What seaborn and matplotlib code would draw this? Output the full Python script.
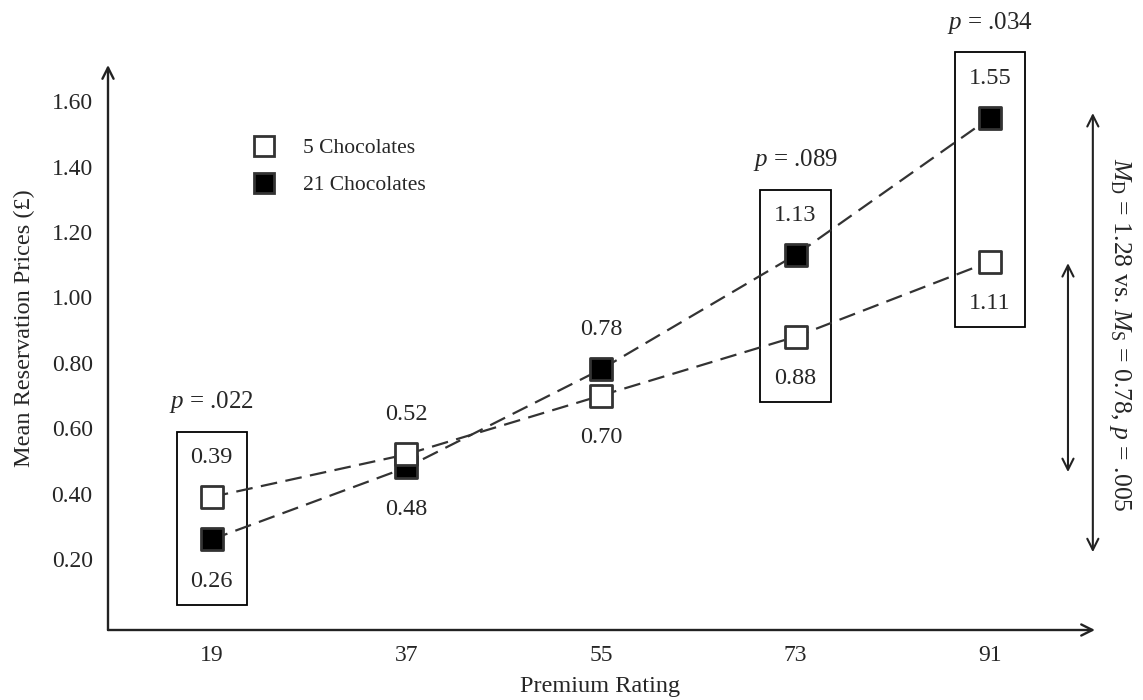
import matplotlib
matplotlib.use("Agg")
import matplotlib.pyplot as plt
import seaborn as sns
import pandas as pd
from matplotlib.lines import Line2D
from matplotlib.patches import Rectangle

# ---- data ----
ratings = [19, 37, 55, 73, 91]
five_choc = [0.39, 0.52, 0.70, 0.88, 1.11]
twentyone_choc = [0.26, 0.48, 0.78, 1.13, 1.55]
y_ticks = [0.20, 0.40, 0.60, 0.80, 1.00, 1.20, 1.40, 1.60]
boxed_ratings = [19, 73, 91]
boxed_pvalues = [".022", ".089", ".034"]
series_names = ["5 Chocolates", "21 Chocolates"]
summary_text = r"$M_{\mathrm{D}}$ = 1.28 vs. $M_{\mathrm{S}}$ = 0.78, $p$ = .005"

sns.set_theme(style="white")
plt.rcParams["font.family"] = ["Liberation Serif", "DejaVu Serif"]
plt.rcParams["mathtext.fontset"] = "custom"
plt.rcParams["mathtext.rm"] = "Liberation Serif"
plt.rcParams["mathtext.it"] = "Liberation Serif:italic"

TXT = "#262626"
LINE = "#333333"
FS_TICK = 17
FS_VAL = 17.5
FS_P = 18
FS_LAB = 17.5
FS_LEG = 15.5
FS_SUM = 18.5

fig = plt.figure(figsize=(11.43, 7.0), dpi=100)
ax = fig.add_axes([108 / 1143, 1 - 630 / 700, (1095 - 108) / 1143, (630 - 65) / 700])
ax.set_xlim(9.4, 100.7)
ax.set_ylim(-0.017, 1.711)

df = pd.DataFrame({
    "rating": ratings * 2,
    "price": five_choc + twentyone_choc,
    "group": [series_names[0]] * 5 + [series_names[1]] * 5,
})

dash = (0, (7.5, 3.8))
for name in series_names[::-1]:
    sub = df[df["group"] == name]
    sns.lineplot(data=sub, x="rating", y="price", ax=ax, color=LINE, lw=1.6,
                 linestyle=dash, zorder=2, legend=False)

sub21 = df[df["group"] == series_names[1]]
sub5 = df[df["group"] == series_names[0]]
sns.scatterplot(data=sub21, x="rating", y="price", ax=ax, marker="s", s=230,
                color="black", edgecolor=LINE, linewidth=2, zorder=3, legend=False)
sns.scatterplot(data=sub5, x="rating", y="price", ax=ax, marker="s", s=230,
                color="white", edgecolor=LINE, linewidth=2, zorder=4, legend=False)

# value labels: higher value above, lower value below
for x, a, b in zip(ratings, five_choc, twentyone_choc):
    hi, lo = max(a, b), min(a, b)
    ax.annotate(f"{hi:.2f}", (x, hi), xytext=(0, 28.5), textcoords="offset points",
                ha="center", va="center", fontsize=FS_VAL, color=TXT)
    ax.annotate(f"{lo:.2f}", (x, lo), xytext=(0, -30), textcoords="offset points",
                ha="center", va="center", fontsize=FS_VAL, color=TXT)

# boxes with p values
half_w = 3.25
pad = 0.2
for x, pv in zip(boxed_ratings, boxed_pvalues):
    i = ratings.index(x)
    lo = min(five_choc[i], twentyone_choc[i]) - pad
    hi = max(five_choc[i], twentyone_choc[i]) + pad
    ax.add_patch(Rectangle((x - half_w, lo), 2 * half_w, hi - lo, fill=False,
                           ec="black", lw=1.3, zorder=1, clip_on=False))
    ax.annotate(r"$p$ = " + pv, (x, hi), xytext=(0, 21), textcoords="offset points",
                ha="center", va="center", fontsize=FS_P, color=TXT, annotation_clip=False)

# axes as arrows
for s in ax.spines.values():
    s.set_visible(False)
arrow_kw = dict(arrowstyle="->", lw=1.7, color="#222222", mutation_scale=20,
                shrinkA=0, shrinkB=0)
ax.annotate("", xy=(0, 1), xytext=(0, 0), xycoords="axes fraction", arrowprops=arrow_kw)
ax.annotate("", xy=(1, 0), xytext=(0, 0), xycoords="axes fraction", arrowprops=arrow_kw)

ax.set_xticks(ratings)
ax.set_xticklabels([str(r) for r in ratings])
ax.set_yticks(y_ticks)
ax.set_yticklabels([f"{v:.2f}" for v in y_ticks])
ax.tick_params(axis="both", length=0, labelsize=FS_TICK, labelcolor=TXT)
ax.tick_params(axis="y", pad=11)
ax.tick_params(axis="x", pad=11)

ax.set_ylabel("Mean Reservation Prices (£)", fontsize=FS_LAB, color=TXT)
ax.yaxis.set_label_coords(-0.074, 0.534)
ax.set_xlabel("Premium Rating", fontsize=FS_LAB, color=TXT)
ax.xaxis.set_label_coords(0.4985, -0.082)

# legend
handles = [
    Line2D([], [], marker="s", ls="", ms=15, mfc="white", mec=LINE, mew=2),
    Line2D([], [], marker="s", ls="", ms=15, mfc="black", mec=LINE, mew=2),
]
leg = ax.legend(handles, series_names, loc="upper left", bbox_to_anchor=(0.128, 0.905),
                frameon=False, fontsize=FS_LEG, handlelength=1.0, handletextpad=1.3,
                labelspacing=0.8, labelcolor=TXT)

# right-side range arrows and summary
dbl = dict(arrowstyle="<->", lw=1.5, color="#222222", mutation_scale=20,
           shrinkA=0, shrinkB=0)
ax.annotate("", xy=(100.5, 1.564), xytext=(100.5, 0.221), arrowprops=dbl,
            annotation_clip=False)
ax.annotate("", xy=(98.2, 1.105), xytext=(98.2, 0.466), arrowprops=dbl,
            annotation_clip=False)
fig.text(1120 / 1143, 1 - 335 / 700, summary_text, rotation=270, ha="center",
         va="center", fontsize=FS_SUM, color=TXT)

fig.savefig("out.png", dpi=100)
